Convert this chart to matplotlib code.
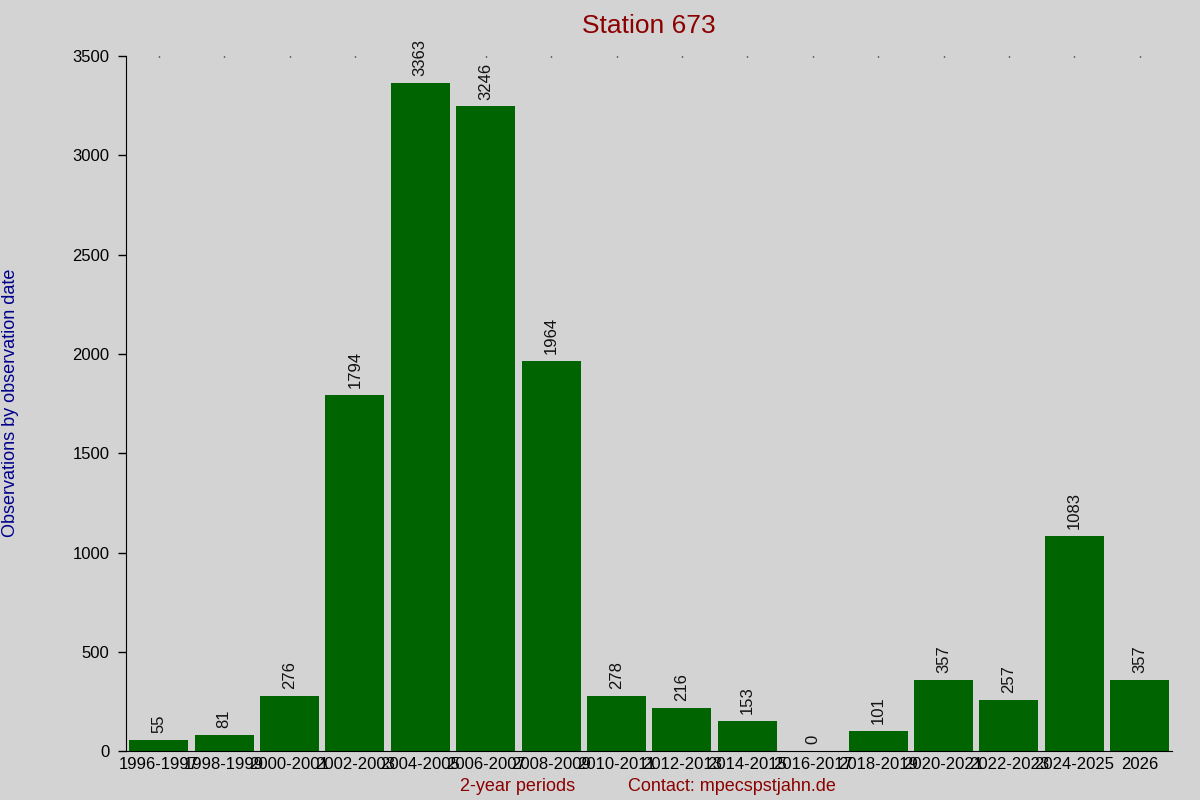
import numpy as np
import matplotlib
matplotlib.use('Agg')
import matplotlib.pyplot as plt

plt.rcParams['font.family'] = ['Liberation Sans', 'DejaVu Sans']

periods = ['1996-1997', '1998-1999', '2000-2001', '2002-2003', '2004-2005',
           '2006-2007', '2008-2009', '2010-2011', '2012-2013', '2014-2015',
           '2016-2017', '2018-2019', '2020-2021', '2022-2023', '2024-2025', '2026']
counts = [55, 81, 276, 1794, 3363, 3246, 1964, 278, 216, 153, 0, 101, 357, 257, 1083, 357]
yticks = [0, 500, 1000, 1500, 2000, 2500, 3000, 3500]

bg = '#d3d3d3'
fig = plt.figure(figsize=(12, 8), dpi=100, facecolor=bg)
ax = fig.add_axes([0.105, 0.061, 0.872, 0.869], facecolor=bg)

x = np.arange(len(periods))
ax.bar(x, counts, width=0.9, color='#006400')
for xi, v in zip(x, counts):
    ax.annotate(str(v), (xi, v), xytext=(0, 5), textcoords='offset points',
                rotation=90, ha='center', va='bottom', fontsize=12, color='#111111')

ax.set_xlim(-0.5, len(periods) - 0.5)
ax.set_ylim(0, 3500)
ax.set_yticks(yticks)
ax.set_xticks(x)
ax.set_xticklabels(periods)

for s in ['top', 'right']:
    ax.spines[s].set_visible(False)
ax.tick_params(axis='y', length=6, width=1, labelsize=12, pad=6)
ax.tick_params(axis='x', bottom=False, top=True, direction='in', length=1,
               width=1, labelsize=12, pad=4)

fig.text(0.541, 0.982, 'Station 673', ha='center', va='top', fontsize=19, color='#8b0000')
fig.text(0.009, 0.496, 'Observations by observation date', rotation=90,
         ha='center', va='center', fontsize=13, color='#00008b')
fig.text(0.431, 0.017, '2-year periods', ha='center', va='center', fontsize=13, color='#8b0000')
fig.text(0.61, 0.017, 'Contact: mpecspstjahn.de', ha='center', va='center',
         fontsize=13, color='#8b0000')

fig.savefig('out.png', dpi=100, facecolor=bg)
